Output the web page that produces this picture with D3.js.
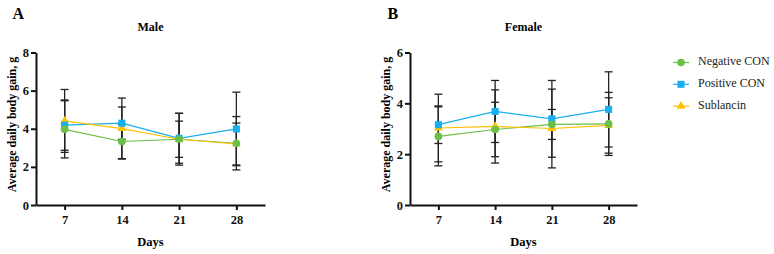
<!DOCTYPE html>
<html>
<head>
<meta charset="utf-8">
<script src="https://cdn.jsdelivr.net/npm/d3@7"></script>
<style>
  body { margin: 0; background: #fff; }
  svg { display: block; font-family: "Liberation Serif", "Times New Roman", serif; }
  .axis path, .axis line { stroke: #111; stroke-width: 2; }
  .axis text { font-size: 12.5px; font-weight: bold; fill: #111; font-family: "Liberation Serif", serif; }
</style>
</head>
<body>
<div id="chart"></div>
<script>
// Tage
const days = [7, 14, 21, 28];
const seriesNames = ['Negative CON', 'Positive CON', 'Sublancin'];

// Male (Mittelwert / SD)
const maleNeg   = [3.97, 3.33, 3.45, 3.24];
const maleNegSd = [1.50, 0.90, 0.95, 1.40];
const malePos   = [4.19, 4.29, 3.50, 3.99];
const malePosSd = [1.32, 0.85, 1.31, 1.93];
const maleSub   = [4.41, 4.01, 3.45, 3.20];
const maleSubSd = [1.65, 1.60, 1.36, 1.10];

// Female (Mittelwert / SD)
const femaleNeg   = [2.70, 2.97, 3.17, 3.19];
const femaleNegSd = [1.16, 1.07, 0.59, 1.24];
const femalePos   = [3.16, 3.68, 3.39, 3.76];
const femalePosSd = [0.74, 1.22, 1.51, 1.48];
const femaleSub   = [3.03, 3.09, 3.01, 3.13];
const femaleSubSd = [1.33, 1.44, 1.55, 1.09];

const maleTicks   = [0, 2, 4, 6, 8];
const femaleTicks = [0, 2, 4, 6];

const colors  = ['#6cbf45', '#18aef0', '#ffc000'];
const symbols = [d3.symbolCircle, d3.symbolSquare, d3.symbolTriangle];
const symSize = [46, 50, 34];

const svg = d3.select('#chart').append('svg')
  .attr('width', 774).attr('height', 254);

function drawPanel(p) {
  const x = d3.scaleLinear().domain([3.5, 31.5]).range([p.x0, p.x1]);
  const y = d3.scaleLinear().domain([0, p.yMax]).range([205, 52.5]);
  const g = svg.append('g');

  g.append('g').attr('class', 'axis')
    .attr('transform', 'translate(0,205)')
    .call(d3.axisBottom(x).tickValues(days).tickFormat(d3.format('d'))
      .tickSize(5).tickSizeOuter(0).tickPadding(5));
  g.append('g').attr('class', 'axis')
    .attr('transform', `translate(${p.x0},0)`)
    .call(d3.axisLeft(y).tickValues(p.ticks).tickFormat(d3.format('d'))
      .tickSize(5).tickSizeOuter(0).tickPadding(2));

  const series = p.means.map((m, k) => ({
    k, pts: days.map((d, i) => ({ d, v: m[i], sd: p.sds[k][i] }))
  }));

  // Fehlerbalken
  series.forEach(s => {
    s.pts.forEach(pt => {
      const cx = x(pt.d);
      const yt = y(pt.v + pt.sd), yb = y(pt.v - pt.sd);
      g.append('line').attr('x1', cx).attr('x2', cx).attr('y1', yt).attr('y2', yb)
        .attr('stroke', '#222').attr('stroke-width', 1.3);
      [yt, yb].forEach(yy => g.append('line')
        .attr('x1', cx - 4).attr('x2', cx + 4).attr('y1', yy).attr('y2', yy)
        .attr('stroke', '#222').attr('stroke-width', 1.3));
    });
  });

  // Linien
  const line = d3.line().x(d => x(d.d)).y(d => y(d.v));
  series.forEach(s => {
    g.append('path').datum(s.pts).attr('d', line)
      .attr('fill', 'none').attr('stroke', colors[s.k]).attr('stroke-width', 1.2);
  });

  // Marker
  [2, 1, 0].forEach(k => {
    g.selectAll(null).data(series[k].pts).enter().append('path')
      .attr('transform', d => `translate(${x(d.d)},${y(d.v)})`)
      .attr('d', d3.symbol().type(symbols[k]).size(symSize[k]))
      .attr('fill', colors[k]);
  });

  g.append('text').attr('x', (p.x0 + p.x1) / 2).attr('y', 31)
    .attr('text-anchor', 'middle').attr('font-size', 12).attr('font-weight', 'bold')
    .text(p.title);
  g.append('text').attr('x', (p.x0 + p.x1) / 2).attr('y', 246)
    .attr('text-anchor', 'middle').attr('font-size', 12.5).attr('font-weight', 'bold')
    .text('Days');
  g.append('text')
    .attr('transform', `translate(${p.x0 - 23},124.5) rotate(-90)`)
    .attr('text-anchor', 'middle').attr('dominant-baseline', 'middle')
    .attr('font-size', 12).attr('font-weight', 'bold')
    .text('Average daily body gain, g');
  g.append('text').attr('x', p.lx).attr('y', 18.5)
    .attr('font-size', 16).attr('font-weight', 'bold').text(p.letter);
}

drawPanel({ title: 'Male', letter: 'A', lx: 12.5, x0: 36, x1: 265, yMax: 8, ticks: maleTicks,
  means: [maleNeg, malePos, maleSub], sds: [maleNegSd, malePosSd, maleSubSd] });
drawPanel({ title: 'Female', letter: 'B', lx: 387.5, x0: 410, x1: 637, yMax: 6, ticks: femaleTicks,
  means: [femaleNeg, femalePos, femaleSub], sds: [femaleNegSd, femalePosSd, femaleSubSd] });

// Legende
const legend = svg.append('g');
seriesNames.forEach((name, k) => {
  const yy = 62.5 + k * 21.8;
  legend.append('line').attr('x1', 673).attr('x2', 689).attr('y1', yy).attr('y2', yy)
    .attr('stroke', colors[k]).attr('stroke-width', 1.2);
  legend.append('path').attr('transform', `translate(681,${yy})`)
    .attr('d', d3.symbol().type(symbols[k]).size(symSize[k])).attr('fill', colors[k]);
  legend.append('text').attr('x', 698).attr('y', yy).attr('dominant-baseline', 'middle')
    .attr('font-size', 12).attr('fill', '#222').text(name);
});
</script>
</body>
</html>
